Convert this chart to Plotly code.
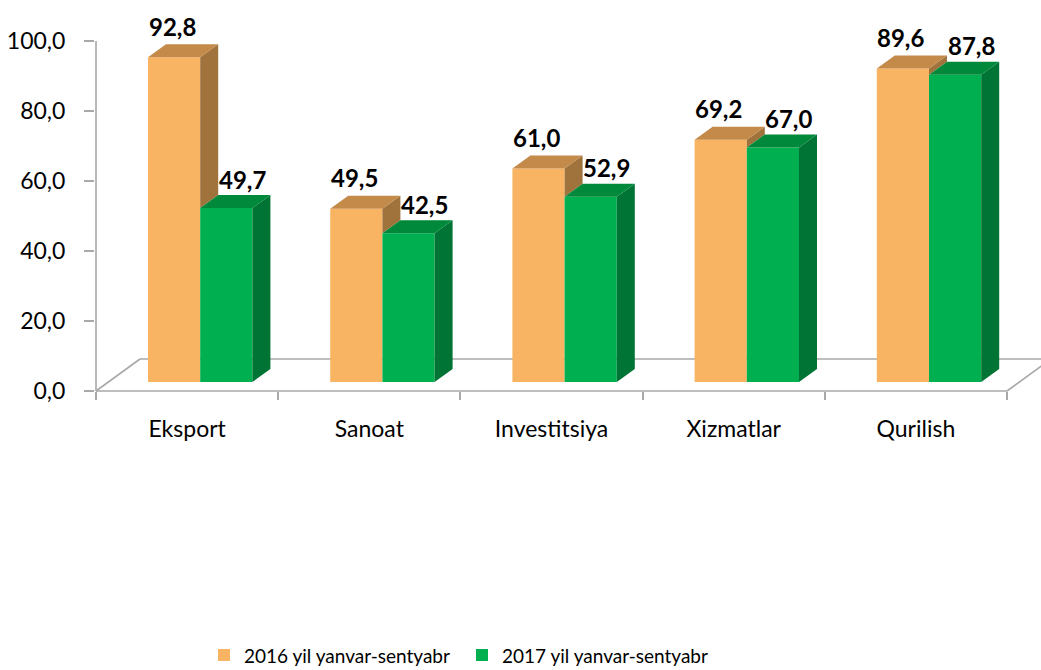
import plotly.graph_objects as go

categories = ["Eksport", "Sanoat", "Investitsiya", "Xizmatlar", "Qurilish"]
series_names = ["2016 yil yanvar-sentyabr", "2017 yil yanvar-sentyabr"]
values_2016 = [92.8, 49.5, 61.0, 69.2, 89.6]
values_2017 = [49.7, 42.5, 52.9, 67.0, 87.8]
y_ticks = [0, 20, 40, 60, 80, 100]

# ---- styling / geometry constants (pixel-derived) ----
W, H = 1041, 670
PX_PER_UNIT_Y = 3.5          # px per value unit
Y0_PX = 391                  # pixel row of value 0 (floor front edge)
U = 182.2                    # px per category along x
AXIS_PX = 96
ML = 95
x_min = -(AXIS_PX - ML) / U
x_max = x_min + (W - ML) / U
y_min = (Y0_PX - H) / PX_PER_UNIT_Y
y_max = Y0_PX / PX_PER_UNIT_Y

bar_w = 52.2 / U
bar_off = 52.0 / U
depth_dx = 18.0 / U
depth_dy = 13.0 / PX_PER_UNIT_Y
bar_base = 9.0 / PX_PER_UNIT_Y
floor_dx = 44.0 / U
floor_dy = 32.0 / PX_PER_UNIT_Y

orange = dict(front="#F9B463", top="#C38A4A", side="#A0733C")
green = dict(front="#00B050", top="#00893A", side="#007434")
grid_col = "#A9A9A9"
FONT = "Lato"

fig = go.Figure()


def add_series(vals, lows, left_off, col, name):
    xs_center = [i + left_off + bar_w / 2 for i in range(len(vals))]
    fig.add_trace(go.Bar(
        x=xs_center, y=vals, base=[bar_base] * len(vals), width=bar_w,
        marker=dict(color=col["front"], line=dict(width=0)),
        name=name, showlegend=True, hoverinfo="skip"))
    top_x, top_y, side_x, side_y = [], [], [], []
    for i, v in enumerate(vals):
        x0 = i + left_off
        x1 = x0 + bar_w
        t = bar_base + v
        top_x += [x0, x1, x1 + depth_dx, x0 + depth_dx, x0, None]
        top_y += [t, t, t + depth_dy, t + depth_dy, t, None]
        lo = bar_base + lows[i]
        side_x += [x1, x1, x1 + depth_dx, x1 + depth_dx, x1, None]
        side_y += [lo, t, t + depth_dy, lo + depth_dy, lo, None]
    fig.add_trace(go.Scatter(x=side_x, y=side_y, mode="lines", fill="toself",
                             fillcolor=col["side"], line=dict(width=0),
                             showlegend=False, hoverinfo="skip"))
    fig.add_trace(go.Scatter(x=top_x, y=top_y, mode="lines", fill="toself",
                             fillcolor=col["top"], line=dict(width=0),
                             showlegend=False, hoverinfo="skip"))


# orange side face is visible only above the green bar in front of it
add_series(values_2016, values_2017, bar_off, orange, series_names[0])
add_series(values_2017, [0] * len(values_2017), bar_off + bar_w, green, series_names[1])

# data labels
def fmt(v):
    return f"{v:.1f}".replace(".", ",")

for i, v in enumerate(values_2016):
    fig.add_annotation(x=i + bar_off + bar_w / 2 - 2 / U, y=bar_base + v + depth_dy,
                       text=f"<b>{fmt(v)}</b>", showarrow=False, yanchor="middle",
                       yshift=18, font=dict(family=FONT, size=24, color="black"))
for i, v in enumerate(values_2017):
    fig.add_annotation(x=i + bar_off + 1.5 * bar_w + 16 / U, y=bar_base + v + depth_dy,
                       text=f"<b>{fmt(v)}</b>", showarrow=False, yanchor="middle",
                       yshift=16, font=dict(family=FONT, size=24, color="black"))

n = len(categories)
line = dict(color=grid_col, width=1.6)
# floor
fig.add_shape(type="line", x0=0, y0=0, x1=n, y1=0, line=line, layer="below")
fig.add_shape(type="line", x0=floor_dx, y0=floor_dy, x1=x_max + 1, y1=floor_dy, line=line, layer="below")
fig.add_shape(type="line", x0=0, y0=0, x1=floor_dx, y1=floor_dy, line=line, layer="below")
fig.add_shape(type="line", x0=n, y0=0, x1=n + floor_dx, y1=floor_dy, line=line, layer="below")
# value axis line
fig.add_shape(type="line", x0=0, y0=0, x1=0, y1=max(y_ticks), line=line, layer="below")

fig.update_layout(
    width=W, height=H, template="none",
    paper_bgcolor="white", plot_bgcolor="white",
    margin=dict(l=ML, r=0, t=0, b=0, autoexpand=False),
    barmode="overlay", separators=",.",
    font=dict(family=FONT, size=20, color="black"),
    showlegend=True,
    legend=dict(orientation="h", x=204 / W, xanchor="left", xref="container",
                y=0.022, yanchor="middle", yref="container",
                entrywidth=213, entrywidthmode="pixels",
                font=dict(family=FONT, size=19, color="black"),
                bgcolor="rgba(0,0,0,0)", itemwidth=30, traceorder="normal"),
    xaxis=dict(range=[x_min, x_max], showgrid=False, zeroline=False, showline=False,
               anchor="free", position=(H - Y0_PX) / H,
               tickmode="array", tickvals=[i + 0.5 for i in range(n)], ticktext=categories,
               ticks="", ticklabelstandoff=22,
               minor=dict(tickmode="array", tickvals=list(range(n + 1)), ticks="outside",
                          ticklen=8, tickcolor=grid_col, tickwidth=1.6, showgrid=False),
               tickfont=dict(family=FONT, size=23, color="black"), automargin=False,
               fixedrange=True),
    yaxis=dict(range=[y_min, y_max], showgrid=False, zeroline=False, showline=False,
               tickmode="array", tickvals=y_ticks, tickformat=".1f",
               ticks="outside", ticklen=10, tickcolor=grid_col, tickwidth=1.6,
               ticklabelstandoff=14,
               tickfont=dict(family=FONT, size=23, color="black"), automargin=False,
               fixedrange=True),
)

fig.write_html("out.html", config={"displayModeBar": False},
               post_script="document.body.style.margin='0';")
